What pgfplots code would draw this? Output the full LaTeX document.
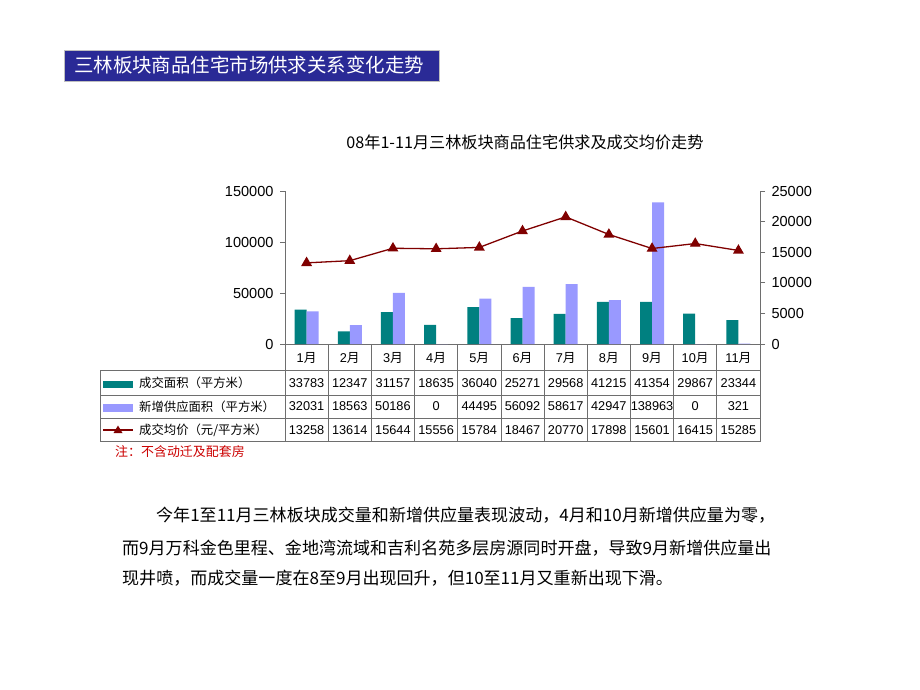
\documentclass[border=0pt]{standalone}
\usepackage{pgfplots}
\pgfplotsset{compat=1.18}
\usepackage{fontspec}
\setmainfont{Liberation Sans}
\newfontfamily\cjk{Noto Sans CJK SC}
\definecolor{teal1}{RGB}{0,128,128}
\definecolor{lav}{RGB}{153,153,255}
\definecolor{dred}{RGB}{128,0,0}
\definecolor{tblue}{RGB}{42,42,150}
\definecolor{gridc}{RGB}{110,110,110}
\definecolor{notered}{RGB}{204,0,0}
\newcommand{\fs}[1]{\fontsize{#1}{#1}\selectfont}
\begin{document}
\begin{tikzpicture}
\begin{scope}[x=1bp,y=-1bp]
\useasboundingbox (0,0) rectangle (920,690);
\fill[white] (0,0) rectangle (920,690);
% title box
\fill[tblue] (64,50) rectangle (439,81);
\draw[black!25, line width=0.8bp] (64,50) rectangle (439,81);
\node[anchor=west, text=white, inner sep=0] at (74,65.5) {\cjk\fs{19.5}三林板块商品住宅市场供求关系变化走势};
% chart title
\node[inner sep=0] at (525,142) {\cjk\fs{16.2}08年1-11月三林板块商品住宅供求及成交均价走势};
% table lines
\foreach \yy in {370.7,395,418.3,441.7} \draw[gridc, line width=0.8bp] (100,\yy) -- (760,\yy);
\draw[gridc, line width=0.8bp] (285,344) -- (760,344);
\draw[gridc, line width=0.8bp] (100,370.7) -- (100,441.7);
\foreach \k in {0,...,11} \draw[gridc, line width=0.8bp] ({285+\k*43.18},344) -- ({285+\k*43.18},441.7);
% header months
\foreach \k in {1,...,11} \node[inner sep=0] at ({285+(\k-0.5)*43.18},357.5) {\fs{12.8}\k{\cjk 月}};
% rows
\foreach \v [count=\i] in {33783,12347,31157,18635,36040,25271,29568,41215,41354,29867,23344}
  \node[inner sep=0] at ({285+(\i-0.5)*43.18},383) {\fs{12.8}\v};
\foreach \v [count=\i] in {32031,18563,50186,0,44495,56092,58617,42947,138963,0,321}
  \node[inner sep=0] at ({285+(\i-0.5)*43.18},406.6) {\fs{12.8}\v};
\foreach \v [count=\i] in {13258,13614,15644,15556,15784,18467,20770,17898,15601,16415,15285}
  \node[inner sep=0] at ({285+(\i-0.5)*43.18},430) {\fs{12.8}\v};
% legend column
\fill[teal1] (103,380.5) rectangle (133,388);
\fill[lav] (103,404) rectangle (133,411.5);
\draw[dred, line width=1.3bp] (103,430) -- (133,430);
\fill[dred] (118,425.5) -- (122.5,433) -- (113.5,433) -- cycle;
\node[anchor=west, inner sep=0] at (139,383) {\cjk\fs{12.4}成交面积（平方米）};
\node[anchor=west, inner sep=0] at (139,406.6) {\cjk\fs{12.4}新增供应面积（平方米）};
\node[anchor=west, inner sep=0] at (139,430) {\cjk\fs{12.4}成交均价（元/平方米）};
% note
\node[anchor=west, inner sep=0, text=notered] at (115,452) {\cjk\fs{13}注：不含动迁及配套房};
% paragraph
\node[anchor=west, inner sep=0] at (156,515) {\cjk\fs{17.1}今年1至11月三林板块成交量和新增供应量表现波动，4月和10月新增供应量为零，};
\node[anchor=west, inner sep=0] at (122,548) {\cjk\fs{17.1}而9月万科金色里程、金地湾流域和吉利名苑多层房源同时开盘，导致9月新增供应量出};
\node[anchor=west, inner sep=0] at (122,578) {\cjk\fs{17.1}现井喷，而成交量一度在8至9月出现回升，但10至11月又重新出现下滑。};
\end{scope}

\begin{axis}[
  at={(285bp,-344bp)}, anchor=south west, scale only axis,
  width=475bp, height=153bp,
  xmin=0.5, xmax=11.5, ymin=0, ymax=150000,
  axis x line=none, axis y line*=left,
  ytick={0,50000,100000,150000},
  tick align=outside, major tick length=5bp,
  y axis line style={gridc, line width=0.8bp},
  ytick style={gridc, line width=0.8bp},
  yticklabel style={font=\fs{14.6}, xshift=-3bp, /pgf/number format/.cd, fixed, set thousands separator={}, assume math mode=true},
  scaled y ticks=false,
  ybar=0pt, bar width=12bp,
]
\addplot[fill=teal1, draw=none] coordinates {(1,33783) (2,12347) (3,31157) (4,18635) (5,36040) (6,25271) (7,29568) (8,41215) (9,41354) (10,29867) (11,23344)};
\addplot[fill=lav, draw=none] coordinates {(1,32031) (2,18563) (3,50186) (4,0) (5,44495) (6,56092) (7,58617) (8,42947) (9,138963) (10,0) (11,321)};
\end{axis}

\begin{axis}[
  at={(285bp,-344bp)}, anchor=south west, scale only axis,
  width=475bp, height=153bp,
  xmin=0.5, xmax=11.5, ymin=0, ymax=25000,
  axis x line=none, axis y line*=right,
  ytick={0,5000,10000,15000,20000,25000},
  tick align=outside, major tick length=5bp,
  y axis line style={gridc, line width=0.8bp},
  ytick style={gridc, line width=0.8bp},
  yticklabel style={font=\fs{14.6}, xshift=3bp, /pgf/number format/.cd, fixed, set thousands separator={}, assume math mode=true},
  scaled y ticks=false,
]
\addplot[dred, line width=1.3bp, mark=triangle*, mark size=5bp, mark options={fill=dred, solid}] coordinates {(1,13258) (2,13614) (3,15644) (4,15556) (5,15784) (6,18467) (7,20770) (8,17898) (9,15601) (10,16415) (11,15285)};
\end{axis}
\end{tikzpicture}
\end{document}
